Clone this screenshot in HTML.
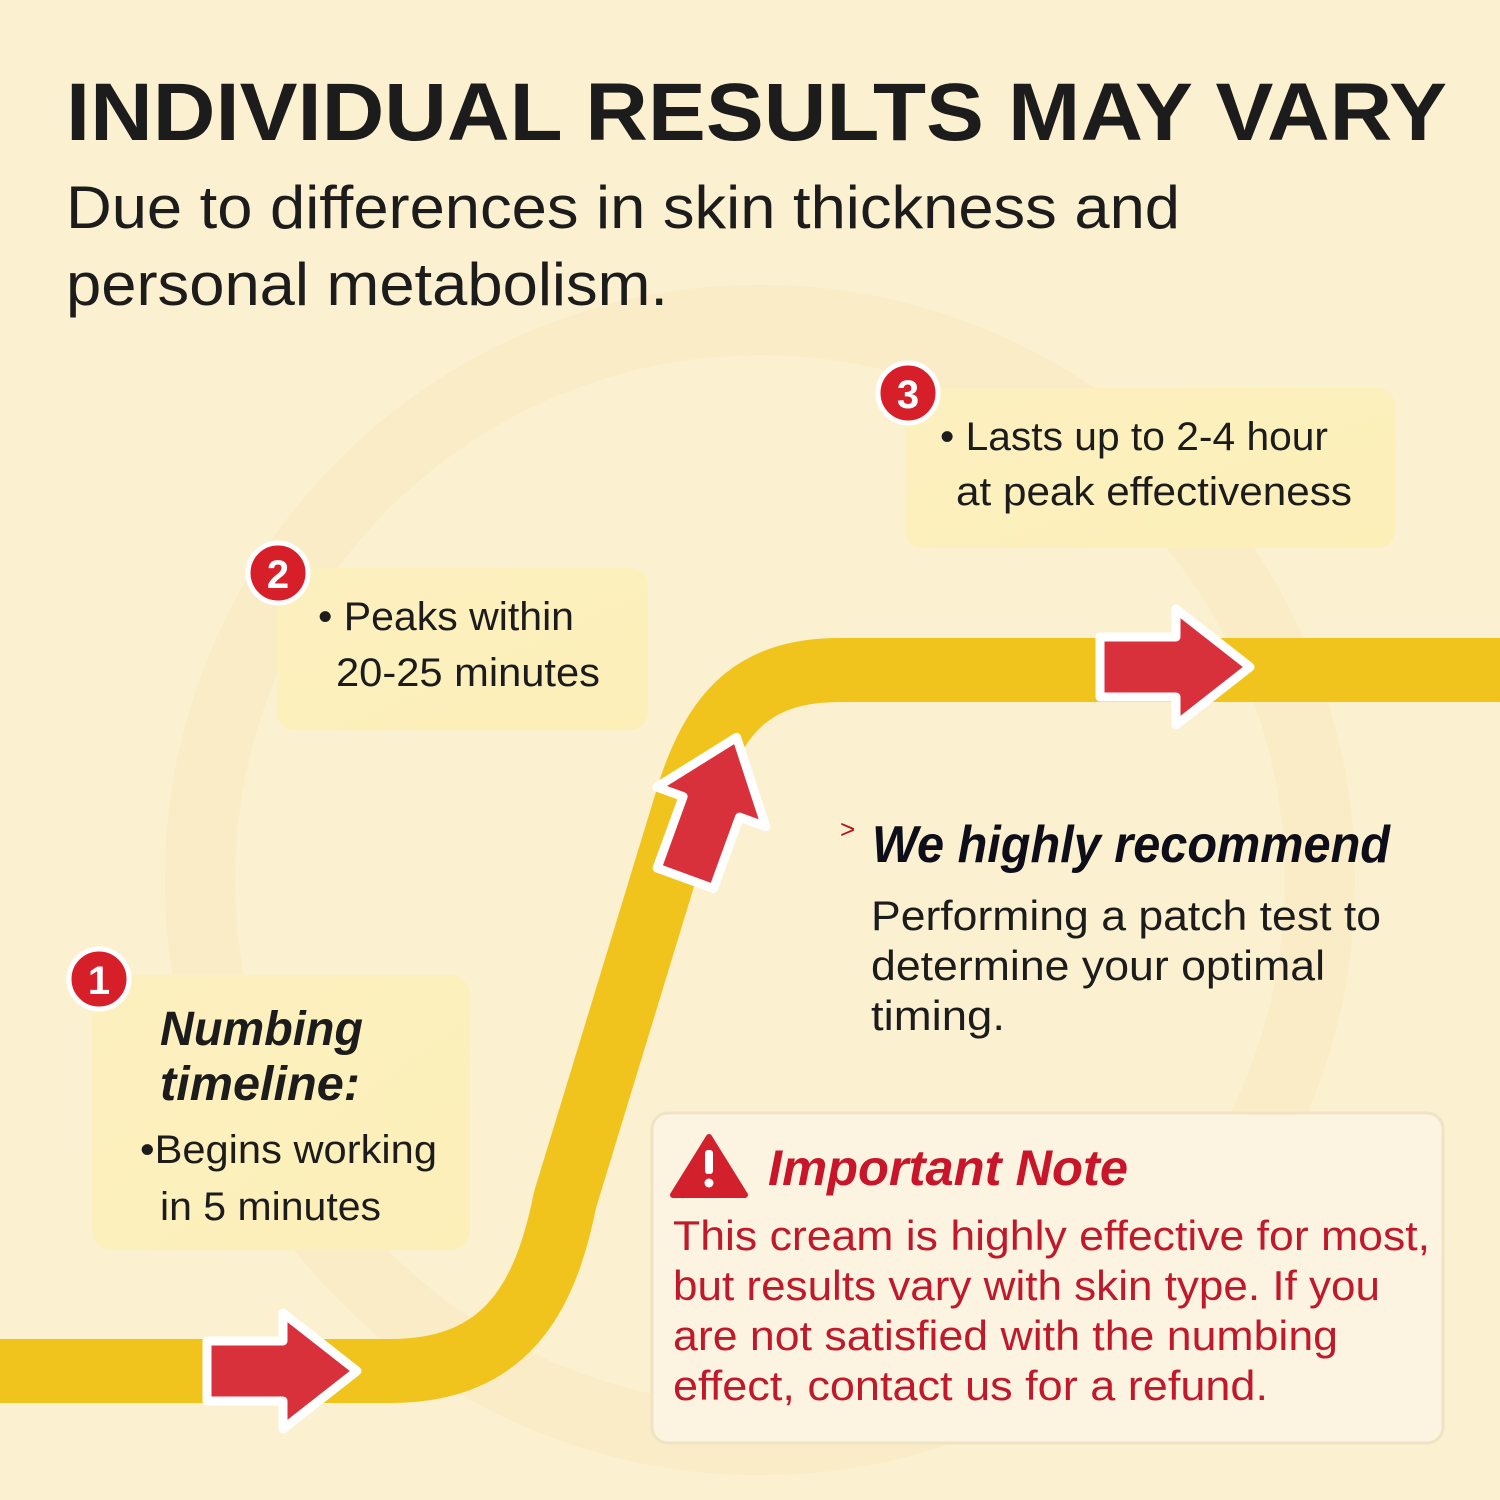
<!DOCTYPE html>
<html><head><meta charset="utf-8"><style>html,body{margin:0;padding:0;background:#fbf0cf}svg{display:block}</style></head>
<body>
<svg width="1500" height="1500" viewBox="0 0 1500 1500" xmlns="http://www.w3.org/2000/svg" font-family="Liberation Sans, sans-serif">
<defs>
<linearGradient id="bx" x1="0" y1="0" x2="1" y2="1"><stop offset="0" stop-color="#fdf0c0"/><stop offset="1" stop-color="#fcefb8"/></linearGradient>
<g id="arr"><path d="M-78,-30 L-2,-30 L-2,-58 L72,0 L-2,58 L-2,30 L-78,30 Z" fill="#d9313c" stroke="#fff" stroke-width="9" stroke-linejoin="round"/></g>
</defs>
<rect width="1500" height="1500" fill="#fbf0cf"/>
<circle cx="760" cy="880" r="560" fill="none" stroke="#f8eac0" stroke-width="70" opacity="0.6"/>
<path d="M-10,1371 L390,1371 C505,1371 545,1300 565,1200 L690,790 C718,705 760,670 840,670 L1510,670" fill="none" stroke="#f0c41c" stroke-width="64"/>
<use href="#arr" transform="translate(285,1371)"/>
<use href="#arr" transform="translate(1178,667)"/>
<use href="#arr" transform="translate(712,805) rotate(-70)"/>
<text x="66" y="140" font-size="82" font-weight="bold" fill="#1c1c1c" textLength="1381" lengthAdjust="spacingAndGlyphs">INDIVIDUAL RESULTS MAY VARY</text>
<text x="66" y="228" font-size="60" fill="#1c1c1c" textLength="1114" lengthAdjust="spacingAndGlyphs">Due to differences in skin thickness and</text>
<text x="66" y="305" font-size="60" fill="#1c1c1c" textLength="602" lengthAdjust="spacingAndGlyphs">personal metabolism.</text>
<rect x="905" y="388" width="490" height="160" rx="18" fill="url(#bx)"/>
<rect x="277" y="568" width="371" height="162" rx="18" fill="url(#bx)"/>
<rect x="92" y="975" width="378" height="275" rx="20" fill="url(#bx)"/>
<g fill="#d71f2a" stroke="#fff" stroke-width="5">
<circle cx="908" cy="393" r="30"/><circle cx="278" cy="573" r="30"/><circle cx="99" cy="979" r="30"/></g>
<g fill="#fff" font-size="40" font-weight="bold" text-anchor="middle">
<text x="908" y="408">3</text><text x="278" y="588">2</text><text x="99" y="994">1</text></g>
<g fill="#1c1c1c" font-size="40">
<text x="940" y="450" textLength="388" lengthAdjust="spacingAndGlyphs">• Lasts up to 2-4 hour</text>
<text x="956" y="505" textLength="396" lengthAdjust="spacingAndGlyphs">at peak effectiveness</text>
<text x="318" y="630" textLength="256" lengthAdjust="spacingAndGlyphs">• Peaks within</text>
<text x="336" y="686" textLength="264" lengthAdjust="spacingAndGlyphs">20-25 minutes</text>
<text x="160" y="1045" font-size="48" font-weight="bold" font-style="italic" textLength="203" lengthAdjust="spacingAndGlyphs">Numbing</text>
<text x="160" y="1100" font-size="48" font-weight="bold" font-style="italic" textLength="200" lengthAdjust="spacingAndGlyphs">timeline:</text>
<text x="140" y="1163" textLength="297" lengthAdjust="spacingAndGlyphs">•Begins working</text>
<text x="160" y="1220" textLength="221" lengthAdjust="spacingAndGlyphs">in 5 minutes</text>
</g>
<text x="840" y="838" font-size="26" fill="#b5121b">&gt;</text>
<text x="872" y="862" font-size="52" font-weight="bold" font-style="italic" fill="#0e0e1a" textLength="518" lengthAdjust="spacingAndGlyphs">We highly recommend</text>
<g font-size="42" fill="#1c1c1c">
<text x="871" y="930" textLength="510" lengthAdjust="spacingAndGlyphs">Performing a patch test to</text>
<text x="871" y="980" textLength="454" lengthAdjust="spacingAndGlyphs">determine your optimal</text>
<text x="871" y="1030" textLength="134" lengthAdjust="spacingAndGlyphs">timing.</text>
</g>
<rect x="652" y="1113" width="791" height="330" rx="16" fill="#fcf4e0" stroke="#efe3c4" stroke-width="3"/>
<path d="M709,1137 L745,1195 L673,1195 Z" fill="#d2202c" stroke="#d2202c" stroke-width="6" stroke-linejoin="round"/>
<rect x="705" y="1150" width="8" height="24" rx="3" fill="#fff"/><circle cx="709" cy="1183" r="4.5" fill="#fff"/>
<text x="768" y="1185" font-size="50" font-weight="bold" font-style="italic" fill="#c8152a" textLength="360" lengthAdjust="spacingAndGlyphs">Important Note</text>
<g font-size="42" fill="#c0192c">
<text x="673" y="1250" textLength="757" lengthAdjust="spacingAndGlyphs">This cream is highly effective for most,</text>
<text x="673" y="1300" textLength="707" lengthAdjust="spacingAndGlyphs">but results vary with skin type. If you</text>
<text x="673" y="1350" textLength="665" lengthAdjust="spacingAndGlyphs">are not satisfied with the numbing</text>
<text x="673" y="1400" textLength="595" lengthAdjust="spacingAndGlyphs">effect, contact us for a refund.</text>
</g>
</svg>
</body></html>
